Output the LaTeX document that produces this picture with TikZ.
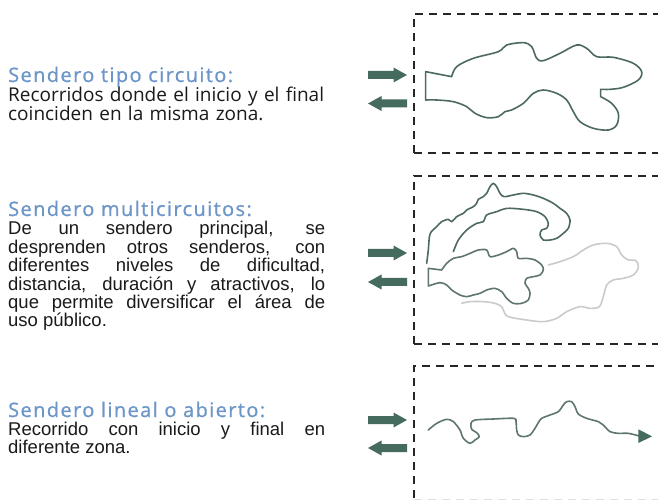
\documentclass[tikz,border=0pt]{standalone}
\usepackage{fontspec}
\setmainfont{Liberation Sans}
\newfontfamily\titlefont[LetterSpace=7,FakeBold=0.8]{Open Sans}
\newfontfamily\frufont{Open Sans}
\definecolor{titleblue}{HTML}{6C95C8}
\definecolor{arrowcol}{HTML}{456A5E}
\definecolor{pathdark}{HTML}{4D6A60}
\definecolor{pathmid}{HTML}{5E7570}
\definecolor{pathlight}{HTML}{C8CCCA}
\definecolor{txt}{HTML}{1A1A1A}
\begin{document}
\begin{tikzpicture}[x=1pt,y=-1pt,
  titlestyle/.style={anchor=base west,inner sep=0pt,text=titleblue,font=\titlefont\fontsize{20}{22}\selectfont},
  bodystyle/.style={anchor=base west,inner sep=0pt,text=txt,text width=317pt,align=justify,font=\fontsize{18.5}{18.4}\selectfont},
  frubody/.style={anchor=base west,inner sep=0pt,text=txt,text width=340pt,align=left,font=\frufont\fontsize{19}{19}\selectfont},
  dashbox/.style={line width=1.8pt,draw=black!85,dash pattern=on 8pt off 6pt},
  trail/.style={line width=1.6pt,line join=round,line cap=round},
  rarrow/.pic={\fill[arrowcol] (-19.5,-4)--(6,-4)--(6,-7.5)--(19.5,0)--(6,7.5)--(6,4)--(-19.5,4)--cycle;},
  larrow/.pic={\fill[arrowcol] (19.5,-4)--(-6,-4)--(-6,-7.5)--(-19.5,0)--(-6,7.5)--(-6,4)--(19.5,4)--cycle;}
]
\useasboundingbox[fill=white] (0,0) rectangle (658,502);

% ---------- texts ----------
\node[titlestyle] (t1) at (8,82) {Sendero tipo circuito:};
\node[frubody] (b1) at (8,101.5) {Recorridos donde el inicio y el final\\coinciden en la misma zona.};

\node[titlestyle] (t2) at (8,216) {Sendero multicircuitos:};
\node[bodystyle] (b2) at (8,235) {\hyphenpenalty=10000 De un sendero principal, se\linebreak desprenden otros senderos, con\linebreak diferentes niveles de dificultad,\linebreak distancia, duración y atractivos, lo\linebreak que permite diversificar el área de\linebreak uso público.};

\node[titlestyle] (t3) at (8,417) {Sendero lineal o abierto:};
\node[bodystyle] (b3) at (8,435) {\hyphenpenalty=10000 Recorrido con inicio y final en\linebreak diferente zona.};

% ---------- dashed boxes ----------
\draw[dashbox] (414,153) -- (414,14) -- (658,14);
\draw[dashbox] (414,153) -- (658,153);
\draw[dashbox] (414,344) -- (414,176) -- (658,176);
\draw[dashbox] (414,344) -- (658,344);
\draw[dashbox] (414,498) -- (414,366) -- (658,366);
\draw[dashbox,draw=black!12,line width=1pt] (414,499) -- (658,499);

% ---------- arrows ----------
\pic at (387.5,75) {rarrow};
\pic at (387.5,103.5) {larrow};
\pic at (387.5,253) {rarrow};
\pic at (387.5,282) {larrow};
\pic at (387.5,420) {rarrow};
\pic at (387.5,448) {larrow};

% ---------- circuit ----------
\begin{scope}[shift={(360,0)},scale=1/3]
\draw[trail,draw=pathdark]
 (197,215) -- (275,230)
 -- plot[smooth,tension=0.55] coordinates {(275,230) (290,200) (340,175) (415,155) (440,135) (490,128) (515,140) (530,175) (550,182) (600,160) (650,135) (680,145) (710,170) (760,172) (820,190) (845,215) (835,240) (790,262) (750,268) (722,268)}
 -- (722,290)
 -- plot[smooth,tension=0.55] coordinates {(722,290) (755,310) (775,340) (770,375) (745,390) (700,385) (660,365) (640,335) (620,300) (590,280) (550,270) (520,280) (490,310) (455,330) (435,335) (415,350) (380,353) (345,340) (320,320) (280,305) (230,300) (197,300)}
 -- cycle;
\end{scope}

% ---------- multicircuit ----------
\begin{scope}[shift={(360,160)},scale=1/3]
\draw[trail,draw=pathlight]
 plot[smooth,tension=0.55] coordinates {(565,315) (600,305) (640,290) (670,270) (700,255) (740,250) (770,260) (785,285) (805,300) (828,302) (835,322) (820,345) (790,355) (760,360) (740,375) (730,410) (718,440) (690,445) (660,440) (620,455) (590,475) (550,485) (500,480) (445,470) (432,455) (425,440) (405,430) (370,425) (330,425) (305,430)};
\draw[trail,draw=pathmid]
 (205,325) -- (245,330)
 -- plot[smooth,tension=0.5] coordinates {(245,330) (260,310) (280,295) (305,290) (330,280) (355,270) (380,270) (390,290) (415,285) (440,275) (460,265) (470,275) (475,295) (500,295) (525,300) (545,315) (550,330) (540,345) (520,350) (500,355) (495,370) (505,385) (510,400) (505,420) (485,430) (460,430) (440,415) (425,395) (405,385) (380,390) (360,400) (340,405) (320,410) (300,405) (275,390) (260,375) (240,368) (205,378)}
 -- cycle;
\draw[trail,draw=pathdark]
 plot[smooth,tension=0.5] coordinates {(200,310) (205,270) (210,222) (230,200) (245,185) (265,178) (275,185) (290,170) (310,160) (320,150) (340,140) (350,130) (355,118) (370,110) (380,100) (390,80) (400,70) (410,80) (420,100) (432,110) (460,105) (490,100) (520,105) (550,115) (580,130) (600,145) (620,160) (630,180) (625,205) (610,220) (590,235) (570,240) (550,240) (540,225) (545,210) (560,205) (565,190) (555,170) (530,155) (490,148) (440,145) (410,155) (380,165) (370,185) (350,190) (320,210) (295,240) (280,275)};
\end{scope}

% ---------- linear ----------
\begin{scope}[shift={(360,340)},scale=1/3]
\draw[trail,draw=pathmid]
 plot[smooth,tension=0.5] coordinates {(205,270) (230,250) (260,238) (280,245) (300,270) (310,295) (330,310) (345,300) (358,290) (350,278) (335,268) (333,250) (345,240) (400,237) (462,235) (468,245) (470,270) (475,285) (490,290) (510,285) (525,265) (535,248) (545,235) (570,225) (595,215) (610,195) (620,185) (635,185) (645,200) (655,222) (680,235) (715,245) (730,255) (750,275) (775,280) (805,280) (838,288)};
\fill[arrowcol] (835,268) -- (876,289) -- (835,309) -- cycle;
\end{scope}
\end{tikzpicture}
\end{document}
